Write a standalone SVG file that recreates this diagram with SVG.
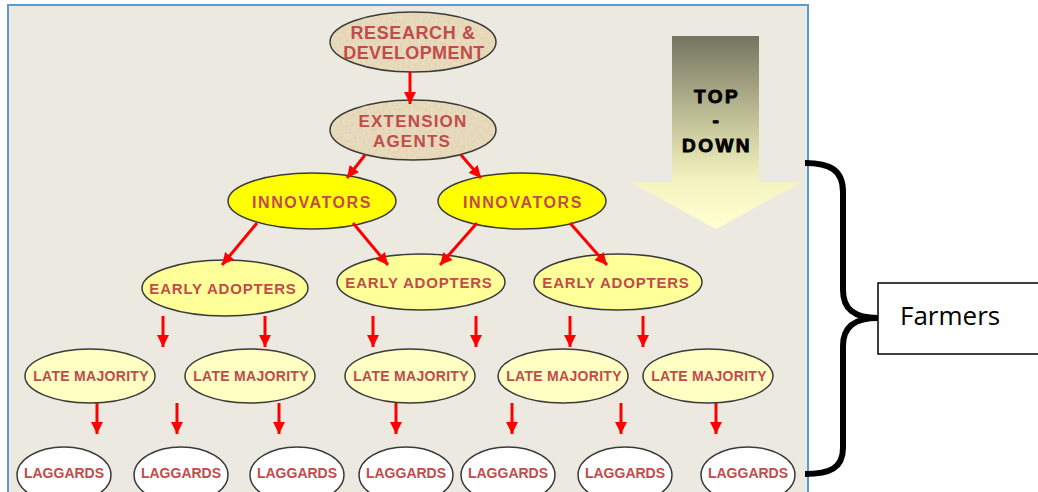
<svg xmlns="http://www.w3.org/2000/svg" width="1038" height="492" viewBox="0 0 1038 492">
  <defs>
    <style>
      .lbl { font-family: "Liberation Sans", Arial, sans-serif; font-weight: bold; fill: #C24B4B; text-anchor: middle; }
      .td { font-family: "Liberation Sans", Arial, sans-serif; font-weight: bold; fill: #000; stroke: #000; stroke-width: 0.9; text-anchor: middle; font-size: 19px; letter-spacing: 2.5px; }
      .node { stroke: #3a3a3a; stroke-width: 1.5; }
      .tan { fill: #E9DDBF; }
      .inn { fill: #FFFF00; }
      .ea { fill: #FFFF99; }
      .lm { fill: #FFFFC4; }
      .lag { fill: #FFFFFF; }
      .arr { stroke: #FF0000; stroke-width: 3; fill: none; marker-end: url(#head); }
    </style>
    <marker id="head" markerUnits="userSpaceOnUse" markerWidth="13" markerHeight="12" refX="12" refY="6" orient="auto">
      <path d="M0,0 L12,6 L0,12 z" fill="#FF0000"/>
    </marker>
    <linearGradient id="tdGrad" gradientUnits="userSpaceOnUse" x1="0" y1="36" x2="0" y2="229">
      <stop offset="0" stop-color="#747460"/>
      <stop offset="0.45" stop-color="#C4C49A"/>
      <stop offset="0.75" stop-color="#F4F4C0"/>
      <stop offset="1" stop-color="#FFFFD2"/>
    </linearGradient>
    <filter id="grain" x="0" y="0" width="100%" height="100%">
      <feTurbulence type="fractalNoise" baseFrequency="0.35" numOctaves="3" seed="4" result="n"/>
      <feColorMatrix in="n" type="matrix" values="0 0 0 0 0.76  0 0 0 0 0.64  0 0 0 0 0.44  0 0 0 2.4 -0.85" result="c"/>
      <feComposite in="c" in2="SourceGraphic" operator="in"/>
    </filter>
  </defs>

  <!-- page background and framed panel -->
  <rect x="0" y="0" width="1038" height="492" fill="#FFFFFF"/>
  <rect x="8" y="5" width="800" height="490" fill="#ECEAE0"/>
  <path d="M8,492 V5 H808 V492" fill="none" stroke="#5B9BD5" stroke-width="2"/>

  <!-- top-down arrow -->
  <g id="top-down">
    <path d="M672,36 H759 V182 H802 L716,229 L630,182 H672 Z" fill="url(#tdGrad)"/>
    <text class="td" x="717" y="103">TOP</text>
    <text class="td" x="717" y="127">-</text>
    <text class="td" x="717" y="152">DOWN</text>
  </g>

  <!-- top of the chain -->
  <g id="research">
    <ellipse class="tan" cx="413" cy="42" rx="83" ry="30"/>
    <ellipse cx="413" cy="42" rx="83" ry="30" fill="#000" filter="url(#grain)"/>
    <ellipse class="node" cx="413" cy="42" rx="83" ry="30" fill="none"/>
    <text class="lbl" x="413" y="39" font-size="18" letter-spacing="0.6">RESEARCH &amp;</text>
    <text class="lbl" x="414" y="59" font-size="18" letter-spacing="0.4">DEVELOPMENT</text>
  </g>
  <g id="extension">
    <ellipse class="tan" cx="413" cy="130" rx="83" ry="30"/>
    <ellipse cx="413" cy="130" rx="83" ry="30" fill="#000" filter="url(#grain)"/>
    <ellipse class="node" cx="413" cy="130" rx="83" ry="30" fill="none"/>
    <text class="lbl" x="413" y="127" font-size="17" letter-spacing="1.2">EXTENSION</text>
    <text class="lbl" x="412" y="147" font-size="17" letter-spacing="1.2">AGENTS</text>
  </g>

  <!-- innovators -->
  <g id="innovators-1">
    <ellipse class="node inn" cx="312" cy="201" rx="84" ry="28"/>
    <text class="lbl" x="312" y="208" font-size="16" letter-spacing="1.6">INNOVATORS</text>
  </g>
  <g id="innovators-2">
    <ellipse class="node inn" cx="522" cy="201" rx="84" ry="28"/>
    <text class="lbl" x="523" y="208" font-size="16" letter-spacing="1.6">INNOVATORS</text>
  </g>

  <!-- early adopters -->
  <g id="early-1">
    <ellipse class="node ea" cx="225" cy="288" rx="83" ry="28"/>
    <text class="lbl" x="223" y="294" font-size="15" letter-spacing="0.8">EARLY ADOPTERS</text>
  </g>
  <g id="early-2">
    <ellipse class="node ea" cx="421" cy="282" rx="84" ry="28"/>
    <text class="lbl" x="419" y="288" font-size="15" letter-spacing="0.8">EARLY ADOPTERS</text>
  </g>
  <g id="early-3">
    <ellipse class="node ea" cx="618" cy="282" rx="84" ry="28"/>
    <text class="lbl" x="616" y="288" font-size="15" letter-spacing="0.8">EARLY ADOPTERS</text>
  </g>

  <!-- late majority -->
  <g id="late-1">
    <ellipse class="node lm" cx="90" cy="376" rx="65" ry="27"/>
    <text class="lbl" x="91" y="381" font-size="14" letter-spacing="0.3">LATE MAJORITY</text>
  </g>
  <g id="late-2">
    <ellipse class="node lm" cx="250" cy="376" rx="65" ry="27"/>
    <text class="lbl" x="251" y="381" font-size="14" letter-spacing="0.3">LATE MAJORITY</text>
  </g>
  <g id="late-3">
    <ellipse class="node lm" cx="410" cy="376" rx="65" ry="27"/>
    <text class="lbl" x="411" y="381" font-size="14" letter-spacing="0.3">LATE MAJORITY</text>
  </g>
  <g id="late-4">
    <ellipse class="node lm" cx="563" cy="376" rx="65" ry="27"/>
    <text class="lbl" x="564" y="381" font-size="14" letter-spacing="0.3">LATE MAJORITY</text>
  </g>
  <g id="late-5">
    <ellipse class="node lm" cx="708" cy="376" rx="65" ry="27"/>
    <text class="lbl" x="709" y="381" font-size="14" letter-spacing="0.3">LATE MAJORITY</text>
  </g>

  <!-- laggards -->
  <g id="laggards-1">
    <ellipse class="node lag" cx="64" cy="475" rx="47" ry="28"/>
    <text class="lbl" x="64" y="478" font-size="14">LAGGARDS</text>
  </g>
  <g id="laggards-2">
    <ellipse class="node lag" cx="181" cy="475" rx="47" ry="28"/>
    <text class="lbl" x="181" y="478" font-size="14">LAGGARDS</text>
  </g>
  <g id="laggards-3">
    <ellipse class="node lag" cx="297" cy="475" rx="47" ry="28"/>
    <text class="lbl" x="297" y="478" font-size="14">LAGGARDS</text>
  </g>
  <g id="laggards-4">
    <ellipse class="node lag" cx="406" cy="475" rx="47" ry="28"/>
    <text class="lbl" x="406" y="478" font-size="14">LAGGARDS</text>
  </g>
  <g id="laggards-5">
    <ellipse class="node lag" cx="508" cy="475" rx="47" ry="28"/>
    <text class="lbl" x="508" y="478" font-size="14">LAGGARDS</text>
  </g>
  <g id="laggards-6">
    <ellipse class="node lag" cx="625" cy="475" rx="47" ry="28"/>
    <text class="lbl" x="625" y="478" font-size="14">LAGGARDS</text>
  </g>
  <g id="laggards-7">
    <ellipse class="node lag" cx="748" cy="475" rx="47" ry="28"/>
    <text class="lbl" x="748" y="478" font-size="14">LAGGARDS</text>
  </g>

  <!-- connectors, drawn over the node outlines -->
  <g id="connectors">
    <line class="arr" x1="410" y1="72" x2="410" y2="104"/>
    <line class="arr" x1="365" y1="155" x2="347" y2="178"/>
    <line class="arr" x1="461" y1="155" x2="481" y2="178"/>
    <line class="arr" x1="257" y1="223" x2="222" y2="265"/>
    <line class="arr" x1="353" y1="223" x2="388" y2="265"/>
    <line class="arr" x1="477" y1="223" x2="440" y2="265"/>
    <line class="arr" x1="570" y1="223" x2="607" y2="265"/>
    <line class="arr" x1="163" y1="316" x2="163" y2="347"/>
    <line class="arr" x1="265" y1="316" x2="265" y2="347"/>
    <line class="arr" x1="373" y1="316" x2="373" y2="347"/>
    <line class="arr" x1="476" y1="316" x2="476" y2="347"/>
    <line class="arr" x1="570" y1="316" x2="570" y2="347"/>
    <line class="arr" x1="643" y1="316" x2="643" y2="347"/>
    <line class="arr" x1="97" y1="403" x2="97" y2="434"/>
    <line class="arr" x1="177" y1="403" x2="177" y2="434"/>
    <line class="arr" x1="279" y1="403" x2="279" y2="434"/>
    <line class="arr" x1="396" y1="403" x2="396" y2="434"/>
    <line class="arr" x1="512" y1="403" x2="512" y2="434"/>
    <line class="arr" x1="621" y1="403" x2="621" y2="434"/>
    <line class="arr" x1="716" y1="403" x2="716" y2="434"/>
  </g>

  <!-- brace grouping the farmer levels -->
  <g id="brace">
    <path d="M805,163 C830,163 843,170 843,192 L843,290 C843,310 855,318 878,318 C855,318 843,326 843,346 L843,448 C843,468 830,474 805,474" fill="none" stroke="#000" stroke-width="6"/>
  </g>
  <g id="farmers">
    <rect x="878" y="283" width="164" height="71" fill="#FFFFFF" stroke="#000" stroke-width="1.5"/>
    <text x="900" y="325" font-family="'Open Sans', 'Liberation Sans', sans-serif" font-size="26" fill="#000">Farmers</text>
  </g>
</svg>
